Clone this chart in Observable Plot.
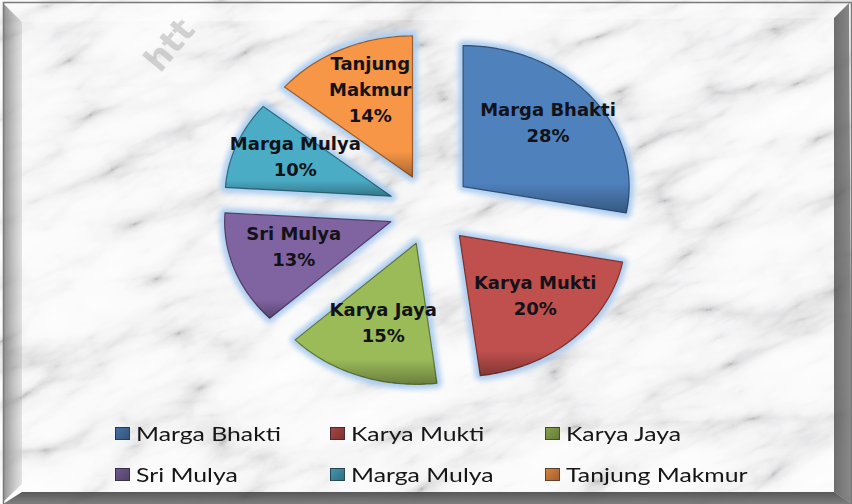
<!DOCTYPE html>
<html><head><meta charset="utf-8">
<script src="https://cdn.jsdelivr.net/npm/d3@7"></script>
<script src="https://cdn.jsdelivr.net/npm/@observablehq/plot@0.6"></script>
<style>
html,body{margin:0;padding:0;background:#fff;}
#wrap{position:relative;width:852px;height:504px;overflow:hidden;}
#bg{position:absolute;left:0;top:0;}
#chart{position:absolute;left:0;top:0;}
#legend{position:absolute;left:115px;top:413px;font-family:Lato,"Open Sans",sans-serif;font-size:18.5px;color:#161616;}
.row{display:flex;height:41px;align-items:center;}
.item{width:215px;display:flex;align-items:center;}
.sw{width:15px;height:13px;box-sizing:border-box;border:1px solid rgba(30,30,40,0.6);margin-right:6px;flex:none;}
.lab{display:inline-block;transform:scaleX(1.34);transform-origin:0 50%;white-space:nowrap;}
</style>
</head><body>
<div id="wrap">
<svg id="bg" width="852" height="504">
  <defs>
    <filter id="marble" filterUnits="userSpaceOnUse" x="-300" y="-300" width="1452" height="1104">
      <feTurbulence type="turbulence" baseFrequency="0.006 0.017" numOctaves="5" seed="11" result="t"/>
      <feColorMatrix type="matrix" values="0.6 0.6 0 0 0  0.6 0.6 0 0 0  0.6 0.6 0 0 0  0 0 0 0 1"/>
      <feComponentTransfer>
        <feFuncR type="table" tableValues="0.5 0.76 0.9 0.955 0.975 0.99 1"/>
        <feFuncG type="table" tableValues="0.5 0.76 0.9 0.955 0.975 0.99 1"/>
        <feFuncB type="table" tableValues="0.51 0.77 0.91 0.96 0.98 0.99 1"/>
      </feComponentTransfer>
    </filter>
    <linearGradient id="shade" x1="0" y1="0" x2="0" y2="1">
      <stop offset="0" stop-color="#000" stop-opacity="0"/>
      <stop offset="0.82" stop-color="#000" stop-opacity="0"/>
      <stop offset="1" stop-color="#000" stop-opacity="0.32"/>
    </linearGradient>
    <linearGradient id="leftBevel" x1="0" y1="0" x2="1" y2="0">
      <stop offset="0" stop-color="#6e6e6e" stop-opacity="0.75"/>
      <stop offset="1" stop-color="#9a9a9a" stop-opacity="0.25"/>
    </linearGradient>
    <linearGradient id="rightBevel" x1="0" y1="0" x2="1" y2="0">
      <stop offset="0" stop-color="#4a4a4a" stop-opacity="0.8"/>
      <stop offset="1" stop-color="#707070" stop-opacity="0.8"/>
    </linearGradient>
    <linearGradient id="bottomBevel" x1="0" y1="0" x2="0" y2="1">
      <stop offset="0" stop-color="#3c3c3c" stop-opacity="0.85"/>
      <stop offset="1" stop-color="#6a6a6a" stop-opacity="0.85"/>
    </linearGradient>
  </defs>
  <rect width="852" height="504" fill="#e9e9e9"/>
  <g transform="rotate(-22 426 252)">
    <rect x="-300" y="-300" width="1452" height="1104" filter="url(#marble)"/>
  </g>
  <text x="160" y="74" transform="rotate(-50 160 74)" font-family="DejaVu Sans" font-weight="bold" font-size="34" fill="#9a9a9a" opacity="0.4">htt</text>
  <polygon points="3,3 22,22 22,484 3,502" fill="url(#leftBevel)"/>
  <polygon points="3,3 849,3 834,18 22,22" fill="#ffffff" fill-opacity="0.35"/>
  <polygon points="849,3 852,504 834,492 834,18" fill="url(#rightBevel)"/>
  <polygon points="3,504 852,504 834,492 22,492" fill="url(#bottomBevel)"/>
  <rect x="3.5" y="2.5" width="848" height="502" fill="none" stroke="#7a7a7a" stroke-width="1.5"/>
</svg>
<div id="chart"></div>
<div id="legend"></div>
</div>
<script>
// ---- data ----
const categories = ["Marga Bhakti", "Karya Mukti", "Karya Jaya", "Sri Mulya", "Marga Mulya", "Tanjung Makmur"];
const values = [28, 20, 15, 13, 10, 14];
const colors = ["#4F81BD", "#C0504D", "#9BBB59", "#8064A2", "#4BACC6", "#F79646"];

// ---- layout ----
const W = 852, H = 410;
const CX = 430, CY = 209, RX = 166, RY = 141;   // pie centre and radii in pixels
const EXPLODE = 0.255;   // explosion distance as fraction of radius
const LABEL_R = 0.64;    // label distance from slice apex

const rows = categories.map((name, i) => ({name, value: values[i], color: colors[i]}));
const arcs = d3.pie().sort(null).value(d => d.value).startAngle(0).endAngle(2 * Math.PI)(rows);

const pts = [];
const labels = [];
for (const a of arcs) {
  const d = a.data;
  const mid = (a.startAngle + a.endAngle) / 2;
  const ox = EXPLODE * Math.sin(mid), oy = -EXPLODE * Math.cos(mid);
  const stroke = d3.color(d.color).darker(1.3).formatHex();
  const base = {name: d.name, color: d.color, stroke};
  pts.push({...base, x: ox, y: oy});
  const n = Math.max(4, Math.ceil((a.endAngle - a.startAngle) / 0.02));
  for (let i = 0; i <= n; i++) {
    const t = a.startAngle + (a.endAngle - a.startAngle) * i / n;
    pts.push({...base, x: ox + Math.sin(t), y: oy - Math.cos(t)});
  }
  pts.push({...base, x: ox, y: oy});
  const pct = Math.round(100 * (a.endAngle - a.startAngle) / (2 * Math.PI));
  labels.push({
    x: ox + LABEL_R * Math.sin(mid),
    y: oy - LABEL_R * Math.cos(mid),
    text: d.name + "\n" + pct + "%"
  });
}

const plot = Plot.plot({
  width: W, height: H,
  margin: 0,
  style: {background: "transparent", overflow: "visible"},
  x: {domain: [-CX / RX, (W - CX) / RX], range: [0, W], axis: null},
  y: {domain: [-CY / RY, (H - CY) / RY], range: [0, H], axis: null},
  color: {type: "identity"},
  marks: [
    Plot.line(pts, {x: "x", y: "y", z: "name", fill: "#a8cbef", stroke: "#a8cbef", strokeWidth: 10, strokeLinejoin: "round", strokeOpacity: 0.9}),
    Plot.line(pts, {x: "x", y: "y", z: "name", fill: "color", stroke: "stroke", strokeWidth: 1.2, strokeLinejoin: "round"}),
    Plot.line(pts, {x: "x", y: "y", z: "name", fill: "url(#shade)", stroke: "none"}),
    Plot.text(labels, {x: "x", y: "y", text: "text", dx: 3, dy: -8, fontFamily: "DejaVu Sans", fontWeight: "bold", fontSize: 18, lineWidth: 7, lineHeight: 1.45, fill: "#121218"})
  ]
});
const lineGroups = plot.querySelectorAll('g[aria-label="line"]');
if (lineGroups.length) lineGroups[0].style.filter = "blur(2.4px)";
document.getElementById("chart").appendChild(plot);

// ---- legend ----
const legend = document.getElementById("legend");
for (let r = 0; r < 2; r++) {
  const row = document.createElement("div");
  row.className = "row";
  rows.slice(r * 3, r * 3 + 3).forEach(d => {
    const item = document.createElement("div");
    item.className = "item";
    const sw = document.createElement("span");
    sw.className = "sw";
    const c1 = d3.color(d.color).darker(0.4).formatHex(), c2 = d3.color(d.color).darker(1.2).formatHex();
    sw.style.background = `linear-gradient(135deg, ${c1}, ${c2})`;
    const lab = document.createElement("span");
    lab.className = "lab";
    lab.textContent = d.name;
    item.append(sw, lab);
    row.appendChild(item);
  });
  legend.appendChild(row);
}
</script>
</body></html>
